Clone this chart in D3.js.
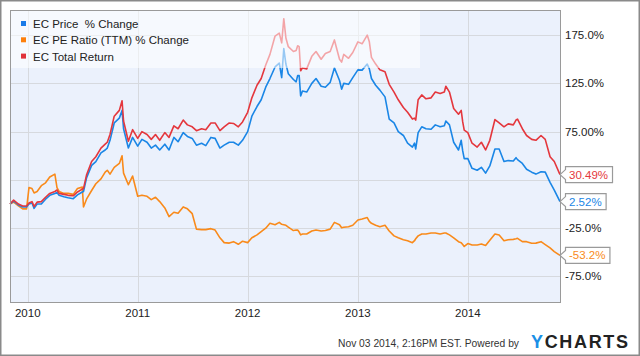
<!DOCTYPE html>
<html>
<head>
<meta charset="utf-8">
<script src="https://cdn.jsdelivr.net/npm/d3@7"></script>
<style>
html,body{margin:0;padding:0;background:#fff;}
svg{display:block;font-family:"Liberation Sans",Arial,sans-serif;}
</style>
</head>
<body>
<svg id="chart" width="640" height="356"></svg>
<script>
// ---------- DATA ----------
const dates = [
"2009-11-03","2009-11-15","2009-12-01","2009-12-15","2009-12-28",
"2010-01-05","2010-01-15","2010-01-22","2010-02-01","2010-02-15","2010-03-01","2010-03-15",
"2010-04-01","2010-04-08","2010-04-15","2010-05-01","2010-05-15","2010-06-01","2010-06-15",
"2010-07-01","2010-07-05","2010-07-15","2010-08-01","2010-08-15","2010-09-01","2010-09-15",
"2010-09-22","2010-10-01","2010-10-15","2010-11-01","2010-11-10","2010-11-15","2010-12-01","2010-12-15",
"2011-01-01","2011-01-15","2011-02-01","2011-02-15","2011-03-01","2011-03-15","2011-04-01",
"2011-04-15","2011-05-01","2011-05-15","2011-06-01","2011-06-15","2011-07-01","2011-07-15",
"2011-08-01","2011-08-15","2011-09-01","2011-09-15","2011-10-01","2011-10-15","2011-11-01",
"2011-11-15","2011-12-01","2011-12-15",
"2012-01-01","2012-01-15","2012-02-01","2012-02-15","2012-03-01","2012-03-15","2012-04-01",
"2012-04-15","2012-04-23","2012-04-30","2012-05-07","2012-05-15","2012-06-01","2012-06-10",
"2012-06-15","2012-06-20","2012-06-25","2012-07-01","2012-07-15","2012-08-01","2012-08-15",
"2012-09-01","2012-09-15","2012-10-01","2012-10-15","2012-11-01","2012-11-08","2012-11-15",
"2012-12-01","2012-12-15",
"2013-01-01","2013-01-15","2013-02-01","2013-02-08","2013-02-15","2013-03-01","2013-03-15",
"2013-04-01","2013-04-15","2013-05-01","2013-05-15","2013-06-01","2013-06-15","2013-07-01",
"2013-07-08","2013-07-12","2013-07-20","2013-08-01","2013-08-15","2013-09-01","2013-09-15",
"2013-10-01","2013-10-15","2013-10-20","2013-11-01","2013-11-15","2013-12-01","2013-12-10",
"2013-12-15","2013-12-20",
"2014-01-01","2014-01-15","2014-02-01","2014-02-15","2014-03-01","2014-03-15","2014-04-01",
"2014-04-15","2014-05-01","2014-05-15","2014-06-01","2014-06-10","2014-06-15","2014-07-01",
"2014-07-15","2014-08-01","2014-08-15","2014-09-01","2014-09-15","2014-10-01","2014-10-15",
"2014-11-03"
];
const priceChange = [
0,3,-1,-3,-3,
0,1,-4.5,0,0,5,9,
11,12,9,7.5,6.5,5.5,9.5,
12.5,13,27,40,44,53,56,
58,66,84,89,97,78,58,69,
60,67,64,58,61,56,62,
56,69,64.5,74,70,68,61,
63,60.5,69,68,58,61,64,
64,61,66,
75,91,101,108,121,130,142,
146,131,161,145,135,129,126.6,
133,133,112,117,116,125,130,
122,121,126,141,128,119,125,
124,131,
139,138.7,145,140,130,123,118,
111,88,84,75,71,63,59,
63,57,74,80,78,77.5,82,
80,81,86,82,64,56,66,
55,47,
47,37,35,38,32,39.5,57,
57,44,45,44.5,48,46,42,
36,33,31,33.5,33,22.5,14.5,
2.52
];
const peRatioChange = [
0,2,-2,-5,-5,
17,16,11.5,13,19,22,28,
31,17,13,11,11,10,16,
17.5,-3,5,14,21,26,33,
35,31,38,42,50,32,20,29,
8,9,8,4.5,7,2.5,-4,
-13,-8.5,-9.5,-3,-5,-10,-26,
-26.5,-26.5,-25.5,-27,-35,-40,-40.5,
-39,-41.7,-38.5,
-40,-35,-32,-28.6,-25,-20,-21.5,
-19,-21,-21.5,-22,-24,-27.5,-27,
-27,-29,-32,-31,-31,-28,-27,
-28,-27.5,-26,-19,-21.5,-24.5,-24,
-23.5,-22,
-16.6,-15.5,-14,-18,-20,-22,-23.5,
-22,-28,-33,-35,-37,-38,-40,
-38,-36,-33,-31,-31,-30,-30,
-31,-30,-30,-32,-35,-39,-40,
-42,-44,
-41,-42.5,-42.4,-41.5,-43,-37.5,-31,
-32,-38,-37,-36.6,-36,-35.5,-39,
-39,-40.7,-40.5,-39,-42,-45.5,-49.3,
-53.2
];
const totalReturn = [
0,4,0,-2,-2,
1,2.5,-2.5,2,2.5,7,11,
13,14.5,11,10,9,8.5,12.5,
15.5,16,30,44,49,58,62,
64,72,91,97,107,86,65,77,
68,75,72,67,72,66,74,
69,81,78,87,82,80,76,
78,77,84,84,76,80,84,
83.5,80,85,
95,110,123,130,144,155,174,
177,167,192,172,163,158,159,
164,163,138,141,140,153,158,
150,156,158,170,150,147,155,
151,157,
168,166,175,168,152,145,139,
137,124,116,108,100,95,88,
89,87,108,113,109,110,116,
114.5,116,122,116,99,93,97,
85,76.6,
74,63,59,64,56,66,87.5,
84,80,83,82,87,88,78,
71,67,66,71,67,49,44,
30.49
];
const seriesNames = ["EC Price  % Change","EC PE Ratio (TTM) % Change","EC Total Return"];
const seriesColors = ["#1a86e6","#f98a1a","#e4373d"];
const legendColors = ["#1a7be8","#fd7f0b","#e0313a"];
const yTicks = [175,125,75,25,-25,-75];
const yTickLabels = ["175.0%","125.0%","75.00%","","-25.0%","-75.0%"];
const xTicks = ["2010-01-01","2011-01-01","2012-01-01","2013-01-01","2014-01-01"];
const xTickLabels = ["2010","2011","2012","2013","2014"];
const endLabels = ["2.52%","-53.2%","30.49%"];
const footerText = "Nov 03 2014, 2:16PM EST. Powered by";

// ---------- CHART ----------
const parse = d3.utcParse("%Y-%m-%d");
const svg = d3.select("#chart");
const L = 10, R = 560, T = 10, B = 302;

const x = d3.scaleUtc().domain([parse("2009-11-03"), parse("2014-11-03")]).range([L, R]);
const y = d3.scaleLinear().domain([-101.5, 201]).range([B, T]);

// outer frame
svg.append("rect").attr("x",0.75).attr("y",0.75).attr("width",638.5).attr("height",354.5)
  .attr("fill","#fff").attr("stroke","#8a8a8a").attr("stroke-width",1.5);

// plot background
svg.append("rect").attr("x",L).attr("y",T).attr("width",R-L).attr("height",B-T).attr("fill","#ebf1fc");

// grid
const grid = svg.append("g").attr("stroke","#d6d9de").attr("stroke-width",1);
grid.selectAll("line.h").data(yTicks).join("line")
  .attr("x1",L).attr("x2",R)
  .attr("y1",d=>Math.round(y(d))+0.5).attr("y2",d=>Math.round(y(d))+0.5);
grid.selectAll("line.v").data(xTicks).join("line")
  .attr("y1",T).attr("y2",B)
  .attr("x1",d=>Math.round(x(parse(d)))+0.5).attr("x2",d=>Math.round(x(parse(d)))+0.5);

// lines
const series = [priceChange, peRatioChange, totalReturn];
const dts = dates.map(parse);
const line = d3.line().x((d,i)=>x(dts[i])).y(d=>y(d)).curve(d3.curveLinear);
const order = [1,0,2];
order.forEach(k=>{
  svg.append("path").datum(series[k]).attr("d",line)
    .attr("fill","none").attr("stroke",seriesColors[k]).attr("stroke-width",1.6)
    .attr("stroke-linejoin","round");
});

// legend overlay
svg.append("rect").attr("x",L).attr("y",T).attr("width",410).attr("height",58)
  .attr("fill","#ffffff").attr("opacity",0.55);
const leg = svg.append("g");
seriesNames.forEach((n,i)=>{
  leg.append("rect").attr("x",21).attr("y",21+i*16.3).attr("width",5).attr("height",5).attr("fill",legendColors[i]);
  leg.append("text").attr("x",33).attr("y",27.5+i*16.5).attr("font-size",11.5).attr("fill","#222")
    .attr("xml:space","preserve").style("white-space","pre").text(n);
});

// plot border
svg.append("rect").attr("x",L+0.5).attr("y",T+0.5).attr("width",R-L).attr("height",B-T)
  .attr("fill","none").attr("stroke","#9a9a9a").attr("stroke-width",1);

// y tick labels
svg.append("g").selectAll("text").data(yTicks).join("text")
  .attr("x",565).attr("y",d=>y(d)+4).attr("font-size",11.5).attr("fill","#222")
  .text((d,i)=>yTickLabels[i]);

// x tick labels
svg.append("g").selectAll("text").data(xTicks).join("text")
  .attr("x",d=>x(parse(d))).attr("y",317).attr("text-anchor","middle")
  .attr("font-size",11.5).attr("fill","#222")
  .text((d,i)=>xTickLabels[i]);

// end labels
[0,1,2].forEach(k=>{
  const v = series[k][series[k].length-1];
  const ey = y(v);
  const g = svg.append("g");
  const t = g.append("text").attr("x",569).attr("y",ey+4).attr("font-size",11.5)
    .attr("fill",seriesColors[k]).text(endLabels[k]);
  const w = t.node().getComputedTextLength();
  const x0 = 565.5, x1 = 569 + w + 4.5, h = 8;
  g.insert("path","text")
    .attr("d",`M${R},${ey} L${x0},${ey-5} L${x0},${ey-h} L${x1},${ey-h} L${x1},${ey+h} L${x0},${ey+h} L${x0},${ey+5} Z`)
    .attr("fill","#fff").attr("stroke","#9a9a9a").attr("stroke-width",1.2);
});

// footer
svg.append("text").attr("x",519).attr("y",347).attr("text-anchor","end")
  .attr("font-size",11).attr("fill","#333").attr("textLength",181).attr("lengthAdjust","spacingAndGlyphs")
  .text(footerText);
const logo = svg.append("text").attr("x",531).attr("y",348).attr("font-size",18).attr("font-weight","bold")
  .attr("textLength",97).attr("lengthAdjust","spacing");
logo.append("tspan").attr("fill","#1a8fe6").text("Y");
logo.append("tspan").attr("fill","#222").text("CHARTS");
</script>
</body>
</html>
